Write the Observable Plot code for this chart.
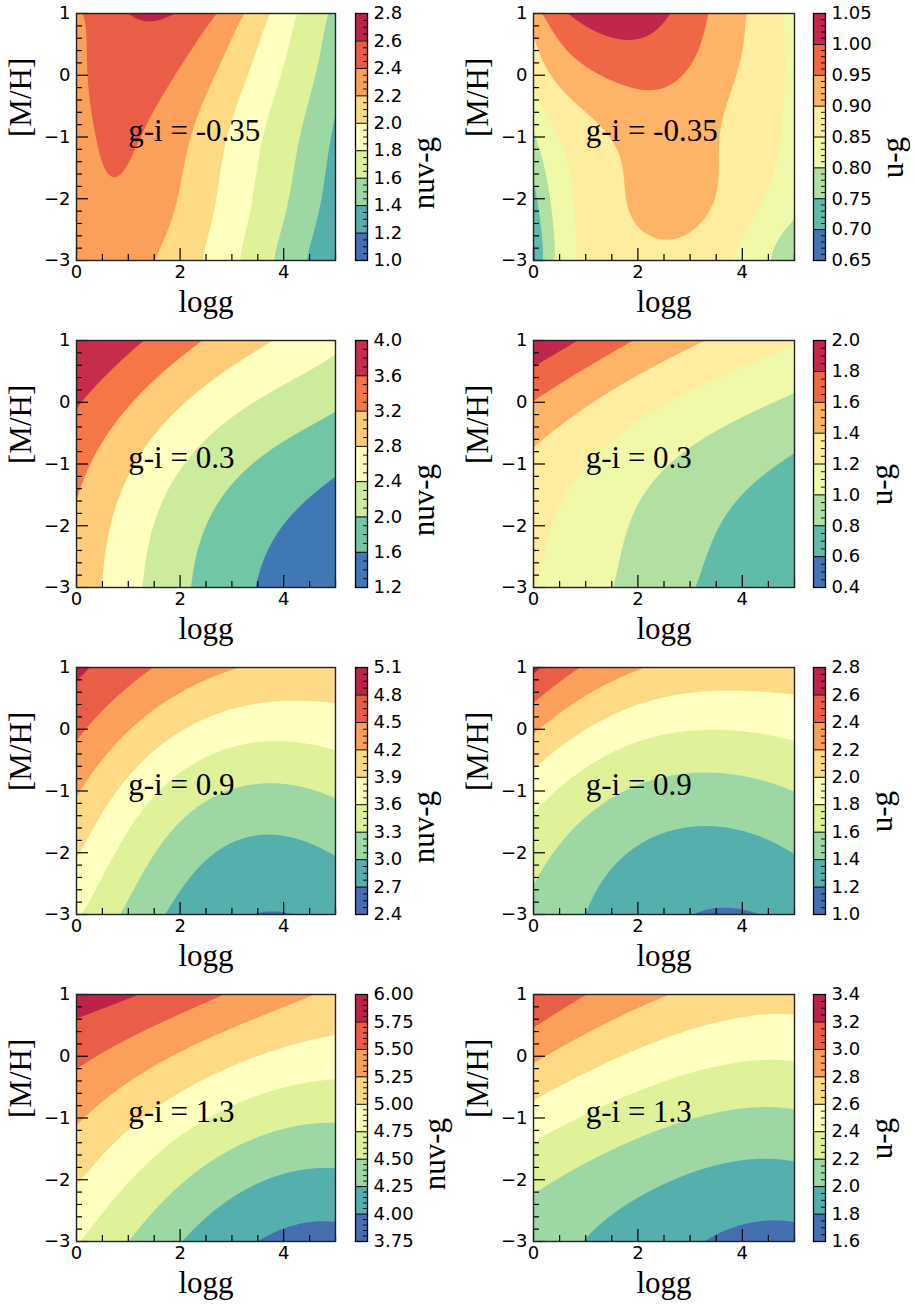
<!DOCTYPE html>
<html>
<head>
<meta charset="utf-8">
<script src="https://cdn.jsdelivr.net/npm/d3@7"></script>
<script src="https://cdn.jsdelivr.net/npm/@observablehq/plot@0.6"></script>
<style>
html,body{margin:0;padding:0;background:#fff;}
#fig{position:relative;width:915px;height:1308px;overflow:hidden;background:#fff;}
#fig svg{position:absolute;overflow:visible;}
</style>
</head>
<body>
<div id="fig"></div>
<script>
// ---------------- data ----------------
const loggFine = [0, 0.5, 1, 1.5, 2, 2.5, 3, 3.5, 4, 4.5, 5];
const loggCoarse = [0, 1, 2, 3, 4, 5];
const mhRows = [1, 0.5, 0, -0.5, -1, -1.5, -2, -2.5, -3];

const xTicks = [0, 2, 4];
const xTickLabels = ["0", "2", "4"];
const yTicks = [-3, -2, -1, 0, 1];
const yTickLabels = ["\u22123", "\u22122", "\u22121", "0", "1"];
const xLabel = "logg";
const yLabel = "[M/H]";
const giLabels = ["g-i = -0.35", "g-i = 0.3", "g-i = 0.9", "g-i = 1.3"];
const colorNames = ["nuv-g", "u-g"];
const noteAt = {logg: 1, mh: -1};

// nuv-g, g-i = -0.35 (rows: [M/H] 1 .. -3, cols: loggFine)
const nuvgM035 = [
  [2.36, 2.48, 2.65, 2.65, 2.53, 2.46, 2.31, 2.09, 1.91, 1.72, 1.55],
  [2.36, 2.46, 2.52, 2.52, 2.47, 2.37, 2.17, 2.01, 1.83, 1.67, 1.52],
  [2.35, 2.45, 2.48, 2.46, 2.41, 2.25, 2.09, 1.93, 1.77, 1.63, 1.47],
  [2.33, 2.43, 2.45, 2.41, 2.31, 2.18, 2.03, 1.88, 1.73, 1.59, 1.42],
  [2.31, 2.42, 2.43, 2.35, 2.25, 2.13, 1.97, 1.83, 1.69, 1.54, 1.36],
  [2.28, 2.42, 2.41, 2.30, 2.22, 2.07, 1.93, 1.80, 1.66, 1.51, 1.32],
  [2.26, 2.385, 2.37, 2.29, 2.21, 2.04, 1.90, 1.78, 1.64, 1.48, 1.30],
  [2.24, 2.33, 2.31, 2.25, 2.16, 2.01, 1.88, 1.74, 1.59, 1.43, 1.24],
  [2.22, 2.28, 2.26, 2.21, 2.11, 2.00, 1.84, 1.69, 1.54, 1.38, 1.22]
];
// u-g, g-i = -0.35 (cols: loggFine)
const ugM035 = [
  [0.925, 0.990, 1.020, 1.030, 1.025, 1.005, 0.975, 0.944, 0.909, 0.869, 0.828],
  [0.885, 0.955, 0.978, 0.990, 0.990, 0.982, 0.962, 0.934, 0.900, 0.869, 0.835],
  [0.868, 0.896, 0.950, 0.965, 0.970, 0.963, 0.948, 0.918, 0.892, 0.867, 0.833],
  [0.840, 0.869, 0.897, 0.925, 0.932, 0.930, 0.922, 0.907, 0.886, 0.864, 0.847],
  [0.800, 0.854, 0.878, 0.902, 0.918, 0.925, 0.920, 0.904, 0.882, 0.860, 0.833],
  [0.750, 0.839, 0.870, 0.894, 0.912, 0.920, 0.915, 0.902, 0.880, 0.857, 0.835],
  [0.730, 0.830, 0.866, 0.890, 0.906, 0.915, 0.911, 0.900, 0.875, 0.850, 0.810],
  [0.705, 0.824, 0.862, 0.881, 0.900, 0.904, 0.901, 0.880, 0.856, 0.822, 0.795],
  [0.690, 0.819, 0.858, 0.875, 0.890, 0.895, 0.885, 0.865, 0.840, 0.800, 0.770]
];
// nuv-g, g-i = 0.3 (cols: loggCoarse)
const nuvg03 = [
  [3.98, 3.72, 3.36, 3.02, 2.73, 2.51],
  [3.90, 3.47, 3.08, 2.78, 2.51, 2.26],
  [3.66, 3.20, 2.87, 2.45, 2.26, 2.07],
  [3.41, 3.03, 2.60, 2.28, 2.07, 1.86],
  [3.32, 2.88, 2.38, 2.13, 1.89, 1.68],
  [3.24, 2.72, 2.28, 1.98, 1.73, 1.50],
  [3.14, 2.62, 2.19, 1.86, 1.58, 1.35],
  [3.09, 2.57, 2.12, 1.78, 1.49, 1.25],
  [3.06, 2.54, 2.08, 1.73, 1.44, 1.21]
];
// u-g, g-i = 0.3
const ug03 = [
  [1.97, 1.78, 1.60, 1.42, 1.31, 1.21],
  [1.78, 1.59, 1.40, 1.30, 1.20, 1.10],
  [1.60, 1.40, 1.28, 1.16, 1.05, 0.95],
  [1.45, 1.30, 1.15, 1.03, 0.94, 0.85],
  [1.36, 1.20, 1.07, 0.96, 0.87, 0.78],
  [1.28, 1.15, 1.02, 0.91, 0.80, 0.71],
  [1.245, 1.11, 0.98, 0.86, 0.76, 0.66],
  [1.22, 1.09, 0.955, 0.83, 0.72, 0.62],
  [1.21, 1.07, 0.94, 0.81, 0.70, 0.61]
];
// nuv-g, g-i = 0.9
const nuvg09 = [
  [4.85, 4.63, 4.41, 4.19, 4.12, 4.10],
  [4.70, 4.45, 4.16, 3.94, 3.91, 3.95],
  [4.56, 4.21, 3.92, 3.76, 3.69, 3.73],
  [4.41, 3.98, 3.70, 3.53, 3.47, 3.52],
  [4.24, 3.77, 3.50, 3.29, 3.27, 3.32],
  [4.10, 3.59, 3.30, 3.12, 3.09, 3.16],
  [3.96, 3.47, 3.15, 2.93, 2.94, 3.01],
  [3.79, 3.38, 3.01, 2.82, 2.82, 2.89],
  [3.59, 3.30, 2.94, 2.71, 2.66, 2.78]
];
// u-g, g-i = 0.9
const ug09 = [
  [2.63, 2.39, 2.23, 2.15, 2.08, 2.12],
  [2.43, 2.19, 2.01, 1.97, 1.98, 2.00],
  [2.25, 1.98, 1.87, 1.80, 1.81, 1.84],
  [2.06, 1.82, 1.73, 1.64, 1.67, 1.71],
  [1.89, 1.70, 1.57, 1.55, 1.55, 1.60],
  [1.76, 1.57, 1.47, 1.42, 1.43, 1.50],
  [1.68, 1.50, 1.38, 1.32, 1.34, 1.40],
  [1.60, 1.45, 1.32, 1.25, 1.26, 1.32],
  [1.55, 1.41, 1.28, 1.19, 1.19, 1.25]
];
// nuv-g, g-i = 1.3
const nuvg13 = [
  [5.85, 5.82, 5.66, 5.45, 5.30, 5.22],
  [5.71, 5.58, 5.41, 5.25, 5.16, 5.05],
  [5.58, 5.40, 5.21, 5.07, 4.96, 4.88],
  [5.44, 5.21, 5.00, 4.88, 4.76, 4.69],
  [5.29, 5.00, 4.86, 4.72, 4.57, 4.51],
  [5.15, 4.89, 4.71, 4.49, 4.40, 4.35],
  [5.03, 4.77, 4.53, 4.34, 4.20, 4.20],
  [4.89, 4.64, 4.39, 4.17, 4.06, 4.06],
  [4.76, 4.52, 4.25, 4.07, 3.95, 3.93]
];
// u-g, g-i = 1.3
const ug13 = [
  [3.16, 3.03, 2.87, 2.76, 2.70, 2.68],
  [3.03, 2.83, 2.72, 2.62, 2.57, 2.56],
  [2.86, 2.68, 2.56, 2.48, 2.41, 2.43],
  [2.68, 2.51, 2.39, 2.32, 2.29, 2.29],
  [2.50, 2.37, 2.30, 2.23, 2.17, 2.17],
  [2.36, 2.27, 2.17, 2.10, 2.04, 2.03],
  [2.25, 2.14, 2.06, 1.98, 1.93, 1.93],
  [2.15, 2.06, 1.95, 1.88, 1.84, 1.84],
  [2.09, 2.00, 1.91, 1.81, 1.76, 1.75]
];

// colour-bar tick labels (also the contour levels)
const cbNuvM035 = ["1.0", "1.2", "1.4", "1.6", "1.8", "2.0", "2.2", "2.4", "2.6", "2.8"];
const cbUgM035  = ["0.65", "0.70", "0.75", "0.80", "0.85", "0.90", "0.95", "1.00", "1.05"];
const cbNuv03   = ["1.2", "1.6", "2.0", "2.4", "2.8", "3.2", "3.6", "4.0"];
const cbUg03    = ["0.4", "0.6", "0.8", "1.0", "1.2", "1.4", "1.6", "1.8", "2.0"];
const cbNuv09   = ["2.4", "2.7", "3.0", "3.3", "3.6", "3.9", "4.2", "4.5", "4.8", "5.1"];
const cbUg09    = ["1.0", "1.2", "1.4", "1.6", "1.8", "2.0", "2.2", "2.4", "2.6", "2.8"];
const cbNuv13   = ["3.75", "4.00", "4.25", "4.50", "4.75", "5.00", "5.25", "5.50", "5.75", "6.00"];
const cbUg13    = ["1.6", "1.8", "2.0", "2.2", "2.4", "2.6", "2.8", "3.0", "3.2", "3.4"];

// ---------------- helpers ----------------
const SERIF = "'Liberation Serif', 'Times New Roman', serif";
const SANS = "'DejaVu Sans', sans-serif";
const spectral = ["#9e0142","#d53e4f","#f46d43","#fdae61","#fee08b","#ffffbf","#e6f598","#abdda4","#66c2a5","#3288bd","#5e4fa2"];
const ramp = d3.piecewise(d3.interpolateRgb, spectral);
const bandColors = n => d3.range(n).map(i => ramp(1 - (i + 0.5) / n));

// smooth least-squares polynomial surface through the read grid values
function polySurface(grid, xs, ys, deg, lo, hi) {
  const terms = [];
  for (let a = 0; a <= deg; a++) for (let b = 0; a + b <= deg; b++) terms.push([a, b]);
  const m = terms.length;
  const x0 = (xs[0] + xs[xs.length - 1]) / 2, xh = Math.abs(xs[xs.length - 1] - xs[0]) / 2;
  const y0 = (ys[0] + ys[ys.length - 1]) / 2, yh = Math.abs(ys[ys.length - 1] - ys[0]) / 2;
  const basis = (x, y) => {
    const u = (x - x0) / xh, v = (y - y0) / yh;
    const pu = [1], pv = [1];
    for (let k = 1; k <= deg; k++) { pu[k] = pu[k - 1] * u; pv[k] = pv[k - 1] * v; }
    return terms.map(([a, b]) => pu[a] * pv[b]);
  };
  const A = Array.from({length: m}, () => new Array(m + 1).fill(0));
  ys.forEach((yv, r) => xs.forEach((xv, c) => {
    const phi = basis(xv, yv), z = grid[r][c];
    for (let i = 0; i < m; i++) {
      A[i][m] += phi[i] * z;
      for (let j = 0; j < m; j++) A[i][j] += phi[i] * phi[j];
    }
  }));
  for (let i = 0; i < m; i++) {
    let p = i;
    for (let r = i + 1; r < m; r++) if (Math.abs(A[r][i]) > Math.abs(A[p][i])) p = r;
    [A[i], A[p]] = [A[p], A[i]];
    for (let r = i + 1; r < m; r++) {
      const f = A[r][i] / A[i][i];
      for (let c = i; c <= m; c++) A[r][c] -= f * A[i][c];
    }
  }
  const coef = new Array(m).fill(0);
  for (let i = m - 1; i >= 0; i--) {
    let s = A[i][m];
    for (let j = i + 1; j < m; j++) s -= A[i][j] * coef[j];
    coef[i] = s / A[i][i];
  }
  return (x, y) => {
    const phi = basis(x, y);
    let v = 0;
    for (let i = 0; i < m; i++) v += coef[i] * phi[i];
    return Math.max(lo, Math.min(hi, v));
  };
}

function minorTicks(levels) {
  const step = levels[1] - levels[0];
  const e = Math.pow(10, Math.floor(Math.log10(step)));
  const m = step / e;
  const ndiv = [1, 2.5, 5, 10].some(v => Math.abs(v - m) < 1e-6) ? 5 : 4;
  const out = [];
  for (let k = 0; k < levels.length - 1; k++)
    for (let s = 1; s < ndiv; s++) out.push(levels[k] + step * s / ndiv);
  return out;
}

const panels = [
  {grid: nuvgM035, logg: loggFine, deg: 6, ticks: cbNuvM035, name: colorNames[0], note: giLabels[0]},
  {grid: ugM035, logg: loggFine, deg: 6, ticks: cbUgM035, name: colorNames[1], note: giLabels[0]},
  {grid: nuvg03, logg: loggCoarse, deg: 4, ticks: cbNuv03, name: colorNames[0], note: giLabels[1]},
  {grid: ug03, logg: loggCoarse, deg: 4, ticks: cbUg03, name: colorNames[1], note: giLabels[1]},
  {grid: nuvg09, logg: loggCoarse, deg: 4, ticks: cbNuv09, name: colorNames[0], note: giLabels[2]},
  {grid: ug09, logg: loggCoarse, deg: 4, ticks: cbUg09, name: colorNames[1], note: giLabels[2]},
  {grid: nuvg13, logg: loggCoarse, deg: 4, ticks: cbNuv13, name: colorNames[0], note: giLabels[3]},
  {grid: ug13, logg: loggCoarse, deg: 4, ticks: cbUg13, name: colorNames[1], note: giLabels[3]}
];

const fig = document.getElementById("fig");
const ROWH = 327, MT = 13, MB = 67;
const xMinor = d3.range(0, 10.5, 1).map(v => v / 2).filter(v => !xTicks.includes(v));
const yMinor = d3.range(-15, 6, 1).map(v => v / 5).filter(v => Math.abs(v - Math.round(v)) > 1e-6);

function place(el, left, top) {
  el.style.position = "absolute";
  el.style.left = left + "px";
  el.style.top = top + "px";
  fig.appendChild(el);
}

panels.forEach((p, k) => {
  const col = k % 2, row = Math.floor(k / 2);
  const levels = p.ticks.map(Number);
  const n = levels.length - 1;
  const colors = bandColors(n);
  const colorScale = {type: "threshold", domain: levels.slice(1, -1), range: colors};
  const f = polySurface(p.grid, p.logg, mhRows, p.deg, levels[0] + 1e-6, levels[n] - 1e-6);

  // ---- contour panel ----
  const W = col === 0 ? 340 : 342, ML = 76, MR = 5;
  const fw = W - ML - MR, fh = ROWH - MT - MB;
  const tickStyle = {stroke: "#000", strokeWidth: 1.2};
  const panel = Plot.plot({
    width: W, height: ROWH, marginTop: MT, marginBottom: MB, marginLeft: ML, marginRight: MR,
    style: {background: "transparent", fontFamily: SANS, fontSize: "18px", color: "#000", overflow: "visible"},
    x: {domain: [0, 5]},
    y: {domain: [-3, 1]},
    color: colorScale,
    marks: [
      Plot.contour({value: f, fill: "value", x1: 0, x2: 5, y1: -3, y2: 1,
        thresholds: levels.slice(0, -1), pixelSize: 1, stroke: "none"}),
      Plot.tickX(xMinor, {x: d => d, insetTop: fh - 6, ...tickStyle}),
      Plot.tickX(xTicks, {x: d => d, insetTop: fh - 12, ...tickStyle}),
      Plot.tickY(yMinor, {y: d => d, insetRight: fw - 6, ...tickStyle}),
      Plot.tickY(yTicks, {y: d => d, insetRight: fw - 12, ...tickStyle}),
      Plot.frame({stroke: "#222", strokeWidth: 1.4}),
      Plot.axisX(xTicks, {tickSize: 0, tickPadding: 5, label: null,
        tickFormat: d => xTickLabels[xTicks.indexOf(d)]}),
      Plot.axisY(yTicks, {tickSize: 0, tickPadding: 6, label: null,
        tickFormat: d => yTickLabels[yTicks.indexOf(d)]}),
      Plot.text([xLabel], {text: d => d, frameAnchor: "bottom", lineAnchor: "bottom", dy: 51,
        fontFamily: SERIF, fontSize: 31, fill: "#000"}),
      Plot.text([yLabel], {text: d => d, frameAnchor: "left", rotate: -90, dx: -55,
        fontFamily: SERIF, fontSize: 31, fill: "#000"}),
      Plot.text([{x: noteAt.logg, y: noteAt.mh, t: p.note}], {x: "x", y: "y", text: "t",
        textAnchor: "start", lineAnchor: "bottom", dy: 4, fontFamily: SERIF, fontSize: 31, fill: "#000"})
    ]
  });
  place(panel, col === 0 ? 0 : 457, row * ROWH);

  // ---- colour bar ----
  const CW = 107, CML = 5, BAR = 12;
  const bands = d3.range(n).map(i => ({lo: levels[i], hi: levels[i + 1]}));
  const maxLen = d3.max(p.ticks, s => s.length);
  const labelDx = 6 + (maxLen - 1) * 0.636 * 18 + 0.318 * 18 + 22;
  const cbar = Plot.plot({
    width: CW, height: ROWH, marginTop: MT, marginBottom: MB, marginLeft: CML, marginRight: CW - CML - BAR,
    style: {background: "transparent", fontFamily: SANS, fontSize: "18px", color: "#000", overflow: "visible"},
    y: {domain: [levels[0], levels[n]]},
    color: colorScale,
    marks: [
      Plot.rect(bands, {y1: "lo", y2: "hi", fill: "lo"}),
      Plot.ruleY(levels.slice(1, -1), {stroke: "#000", strokeWidth: 1}),
      Plot.tickY(minorTicks(levels), {y: d => d, insetLeft: BAR - 4, stroke: "#000", strokeWidth: 0.9}),
      Plot.frame({stroke: "#000", strokeWidth: 1.3}),
      Plot.axisY(levels, {anchor: "right", tickSize: 0, tickPadding: 6, label: null,
        tickFormat: d => p.ticks[levels.indexOf(d)]}),
      Plot.text([p.name], {text: d => d, frameAnchor: "right", rotate: -90, dx: labelDx,
        fontFamily: SERIF, fontSize: 31, fill: "#000"})
    ]
  });
  place(cbar, col === 0 ? 350 : 808, row * ROWH);
});
</script>
</body>
</html>
